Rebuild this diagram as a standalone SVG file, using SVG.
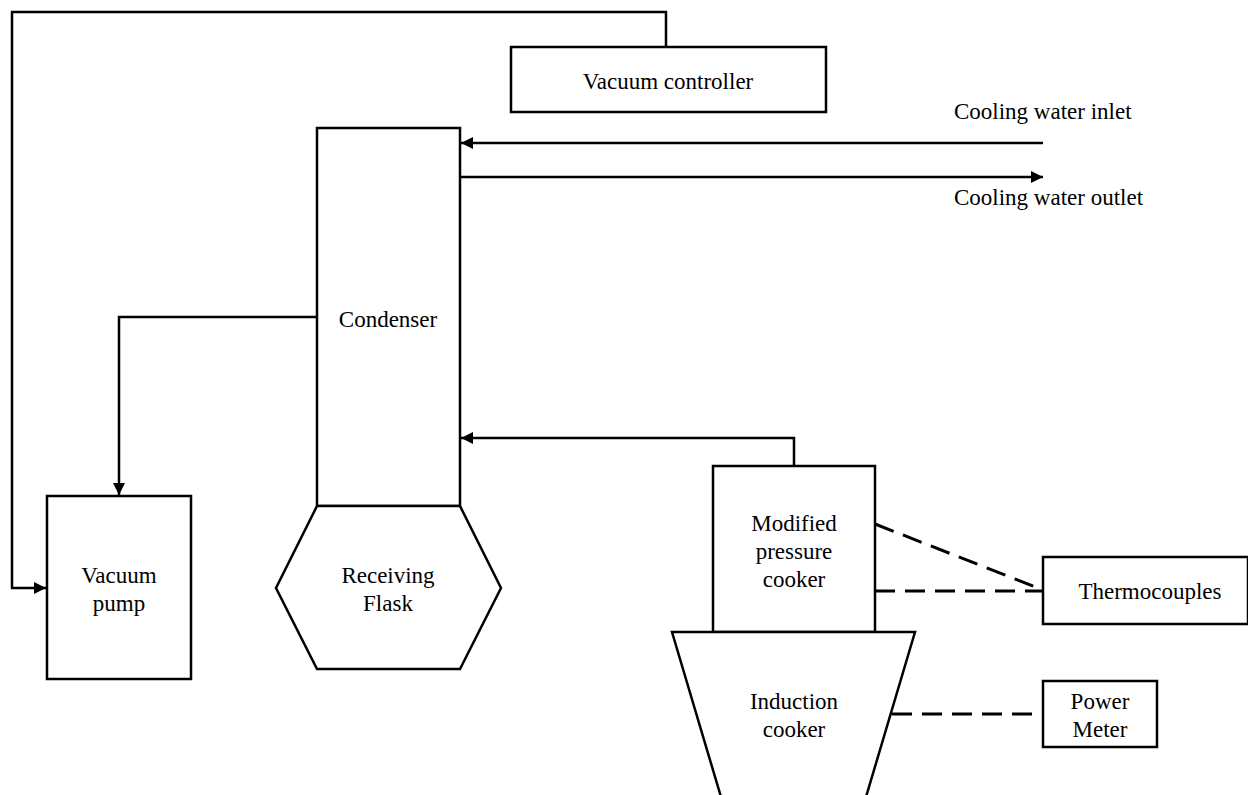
<svg xmlns="http://www.w3.org/2000/svg" width="1248" height="795" viewBox="0 0 1248 795">
<style>
.n{fill:#fff;stroke:#000;stroke-width:2.5}
.c{fill:none;stroke:#000;stroke-width:2.5}
.d{fill:none;stroke:#000;stroke-width:3;stroke-dasharray:20 10}
text{font-family:'Liberation Serif','Times New Roman',serif;font-size:23px;fill:#000;text-anchor:middle}
.l{text-anchor:start}
</style>
<defs>
<marker id="ah" viewBox="0 0 10 10" refX="10" refY="5" markerWidth="12" markerHeight="12" markerUnits="userSpaceOnUse" orient="auto">
<path d="M0,0 L10,5 L0,10 z" fill="#000"/>
</marker>
</defs>
<rect width="1248" height="795" fill="#fff"/>
<g id="connectors">
<polyline class="c" points="666,47 666,12 12,12 12,588 46,588" marker-end="url(#ah)"/>
<polyline class="c" points="317,317 119,317 119,495" marker-end="url(#ah)"/>
<line class="c" x1="1043" y1="143" x2="461" y2="143" marker-end="url(#ah)"/>
<line class="c" x1="460" y1="177" x2="1043" y2="177" marker-end="url(#ah)"/>
<polyline class="c" points="794,466 794,438 461,438" marker-end="url(#ah)"/>
<line class="d" x1="875" y1="524" x2="1043" y2="590"/>
<line class="d" x1="875" y1="591" x2="1043" y2="591"/>
<line class="d" x1="892" y1="714" x2="1038" y2="714"/>
</g>
<g id="vacuum-controller">
<rect class="n" x="511" y="47" width="315" height="65"/>
<text x="668" y="89">Vacuum controller</text>
</g>
<g id="cooling-labels">
<text class="l" x="954" y="119">Cooling water inlet</text>
<text class="l" x="954" y="205">Cooling water outlet</text>
</g>
<g id="condenser">
<rect class="n" x="317" y="128" width="143" height="378"/>
<text x="388" y="327">Condenser</text>
</g>
<g id="receiving-flask">
<polygon class="n" points="317,506 460,506 501,588 460,669 317,669 276,588"/>
<text x="388" y="583">Receiving</text>
<text x="388" y="611">Flask</text>
</g>
<g id="vacuum-pump">
<rect class="n" x="47" y="496" width="144" height="183"/>
<text x="119" y="583">Vacuum</text>
<text x="119" y="611">pump</text>
</g>
<g id="pressure-cooker">
<rect class="n" x="713" y="466" width="162" height="166"/>
<text x="794" y="531">Modified</text>
<text x="794" y="559">pressure</text>
<text x="794" y="587">cooker</text>
</g>
<g id="induction-cooker">
<polygon class="n" points="672,632 915,632 866,797 721,797"/>
<text x="794" y="709">Induction</text>
<text x="794" y="737">cooker</text>
</g>
<g id="thermocouples">
<rect class="n" x="1043" y="557" width="205" height="67"/>
<text x="1150" y="599">Thermocouples</text>
</g>
<g id="power-meter">
<rect class="n" x="1043" y="681" width="114" height="66"/>
<text x="1100" y="709">Power</text>
<text x="1100" y="737">Meter</text>
</g>
</svg>
